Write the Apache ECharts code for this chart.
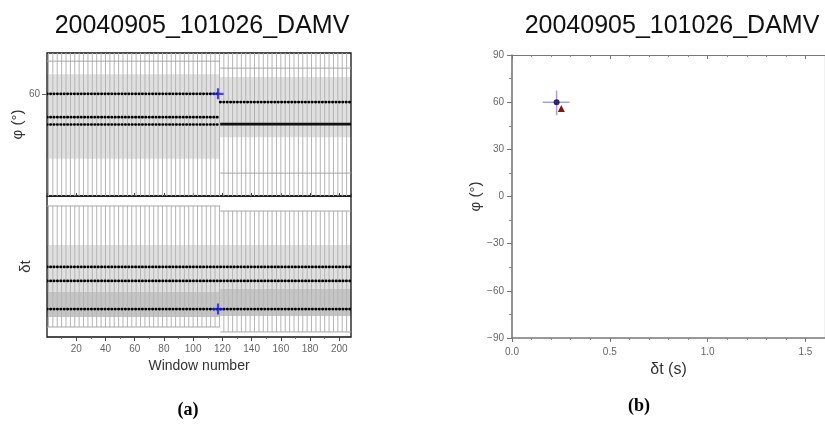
<!DOCTYPE html>
<html>
<head>
<meta charset="utf-8">
<script src="https://cdn.jsdelivr.net/npm/echarts@6/dist/echarts.min.js"></script>
<style>
  html, body { margin: 0; padding: 0; background: #fff; }
  #chart { width: 825px; height: 427px; }
</style>
</head>
<body>
<div id="chart"></div>
<script>
// window numbers that carry an error bar
const windows = [1,4,7,10,13,16,19,22,25,28,31,34,37,40,43,46,49,52,55,58,61,64,67,70,73,76,79,82,85,88,
  91,94,97,100,103,106,109,112,115,118,121,124,127,130,133,136,139,142,145,148,151,154,157,160,163,166,
  169,172,175,178,181,184,187,190,193,196,199,202,205,208];

// phi panel, [fromWindow, toWindow, low, high] / [from, to, value]
const phiBarSegs = [[0, 118.5, 30, 75], [118.5, 208, 30, 75]];
const phiBands = [[0, 118.5, 44.1, 64.8], [118.5, 208, 49.4, 64.1]];
const phiCaps = [[0, 118.5, 68.0], [118.5, 208, 66.3], [118.5, 208, 40.6]];
const phiMeans = [[0, 118.5, 60.0], [0, 118.5, 54.3], [0, 118.5, 52.5], [118.5, 208, 58.0]];
const phiStack = [[118.5, 208, 52.6]];

// dt panel
const dtBarSegs = [[0, 118.5, 0.085, 1.115], [118.5, 208, 0.043, 1.072]];
const dtBands = [[0, 118.5, 0.170, 0.783], [0, 118.5, 0.170, 0.383], [118.5, 208, 0.179, 0.783], [118.5, 208, 0.179, 0.409]];
const dtCaps = [[0, 118.5, 0.085], [0, 118.5, 1.115], [118.5, 208, 0.043], [118.5, 208, 1.072]];
const dtMeans = [[0, 208, 0.596], [0, 208, 0.477], [0, 208, 0.238]];

// chosen window
const bestWindow = 117;
const bestPhi = 60;
const bestDt = 0.238;

// right panel (dt, phi)
const resultPoint = [0.228, 60];
const altPoint = [0.252, 55.9];
const errDt = [0.157, 0.294];
const errPhi = [51.6, 67.5];

const xTicks = [20, 40, 60, 80, 100, 120, 140, 160, 180, 200];
const title = '20040905_101026_DAMV';

function barsFor(segs) {
  let out = [];
  windows.forEach(w => {
    segs.forEach(s => {
      if (w >= s[0] && w < s[1]) out.push([w, s[2], s[3]]);
    });
  });
  return out;
}

function vbarItem(params, api) {
  let a = api.coord([api.value(0), api.value(1)]);
  let b = api.coord([api.value(0), api.value(2)]);
  return { type: 'line', shape: { x1: a[0], y1: a[1], x2: b[0], y2: b[1] },
    style: { stroke: '#b4b4b4', lineWidth: 1 } };
}
function bandItem(params, api) {
  let a = api.coord([api.value(0), api.value(3)]);
  let b = api.coord([api.value(1), api.value(2)]);
  return { type: 'rect', shape: { x: a[0], y: a[1], width: b[0] - a[0], height: b[1] - a[1] },
    style: { fill: 'rgba(0,0,0,0.12)' } };
}
function hline(styleObj) {
  return function (params, api) {
    let a = api.coord([api.value(0), api.value(2)]);
    let b = api.coord([api.value(1), api.value(2)]);
    return { type: 'line', shape: { x1: a[0], y1: a[1], x2: b[0], y2: b[1] }, style: styleObj };
  };
}
const capStyle = { stroke: '#a8a8a8', lineWidth: 1 };
const dotStyle = { stroke: '#000', lineWidth: 2.7, lineDash: [0.4, 3], lineCap: 'round' };
const stackStyle = { stroke: '#111', lineWidth: 2.6 };

const plusPath = 'path://M4,0H6V10H4Z M0,4H10V6H0Z';
const lblStyle = { fontSize: 10, color: '#666', fontFamily: 'Liberation Sans' };

let myChart = echarts.init(document.getElementById('chart'));
let option = {
  animation: false,
  textStyle: { fontFamily: 'Liberation Sans' },
  title: [
    { text: title, left: 197, top: 9, textAlign: 'center',
      textStyle: { fontSize: 25, fontWeight: 'normal', color: '#111' } },
    { text: title, left: 667, top: 9, textAlign: 'center',
      textStyle: { fontSize: 25, fontWeight: 'normal', color: '#111' } },
    { text: '(a)', left: 183, top: 396, textAlign: 'center',
      textStyle: { fontSize: 18, fontWeight: 'bold', color: '#000', fontFamily: 'Liberation Serif' } },
    { text: '(b)', left: 634, top: 392, textAlign: 'center',
      textStyle: { fontSize: 18, fontWeight: 'bold', color: '#000', fontFamily: 'Liberation Serif' } }
  ],
  grid: [
    { left: 47, top: 53, width: 304, height: 143, show: true, borderColor: '#111', borderWidth: 1.3 },
    { left: 47, top: 196, width: 304, height: 141, show: true, borderColor: '#111', borderWidth: 1.3 },
    { left: 512, top: 55, width: 315, height: 283 }
  ],
  xAxis: [
    { type: 'value', gridIndex: 0, min: 0, max: 208, interval: 20,
      axisLine: { show: false }, axisLabel: { show: false },
      axisTick: { inside: true, length: 3, lineStyle: { color: '#444' } }, splitLine: { show: false } },
    { type: 'value', gridIndex: 1, min: 0, max: 208, interval: 20,
      axisLine: { show: false },
      axisLabel: Object.assign({ margin: 7, customValues: xTicks }, lblStyle),
      axisTick: { length: 4, customValues: xTicks, lineStyle: { color: '#444' } },
      minorTick: { show: true, splitNumber: 2, length: 2, lineStyle: { color: '#666' } },
      splitLine: { show: false },
      name: 'Window number', nameLocation: 'middle', nameGap: 22,
      nameTextStyle: { fontSize: 14, color: '#333' } },
    { type: 'value', gridIndex: 2, min: 0, max: 1.6, interval: 0.5,
      axisLine: { onZero: false, lineStyle: { color: '#777', width: 1.6 } },
      axisLabel: Object.assign({ margin: 9, formatter: v => v.toFixed(1), showMaxLabel: false }, lblStyle),
      axisTick: { length: 4, lineStyle: { color: '#777' } },
      minorTick: { show: true, splitNumber: 5, length: 2, lineStyle: { color: '#888' } },
      splitLine: { show: false },
      name: 'δt (s)', nameLocation: 'middle', nameGap: 17,
      nameTextStyle: { fontSize: 16, color: '#333' } },
    { type: 'value', gridIndex: 2, position: 'top', min: 0, max: 1.6, interval: 0.5,
      axisLine: { onZero: false, lineStyle: { color: '#777', width: 1.2 } }, axisLabel: { show: false },
      axisTick: { inside: true, length: 4, lineStyle: { color: '#777' } },
      minorTick: { show: true, splitNumber: 5, length: 2, lineStyle: { color: '#888' } },
      splitLine: { show: false } }
  ],
  yAxis: [
    { type: 'value', gridIndex: 0, min: 35, max: 70,
      axisLine: { show: false },
      axisLabel: Object.assign({ margin: 7, customValues: [60] }, lblStyle),
      axisTick: { length: 5, customValues: [60], lineStyle: { color: '#666' } },
      splitLine: { show: false },
      name: 'φ (°)', nameLocation: 'middle', nameGap: 14, nameRotate: 90,
      nameTextStyle: { fontSize: 15, color: '#333' } },
    { type: 'value', gridIndex: 1, min: 0, max: 1.2,
      axisLine: { show: false }, axisLabel: { show: false }, axisTick: { show: false },
      splitLine: { show: false },
      name: 'δt', nameLocation: 'middle', nameGap: 14, nameRotate: 90,
      nameTextStyle: { fontSize: 15, color: '#333' } },
    { type: 'value', gridIndex: 2, min: -90, max: 90, interval: 30,
      axisLine: { show: true, onZero: false, lineStyle: { color: '#777', width: 1.6 } },
      axisLabel: Object.assign({ margin: 8, formatter: v => String(v).replace('-', '\u2212') }, lblStyle),
      axisTick: { length: 5, lineStyle: { color: '#777' } },
      minorTick: { show: true, splitNumber: 2, length: 3, lineStyle: { color: '#888' } },
      splitLine: { show: false },
      name: 'φ (°)', nameLocation: 'middle', nameGap: 29, nameRotate: 90,
      nameTextStyle: { fontSize: 15, color: '#333' } },
    { type: 'value', gridIndex: 2, position: 'right', min: -90, max: 90,
      axisLine: { show: true, onZero: false, lineStyle: { color: '#777', width: 1.2 } },
      axisLabel: { show: false }, axisTick: { show: false }, splitLine: { show: false } }
  ],
  series: [
    // phi panel
    { type: 'custom', xAxisIndex: 0, yAxisIndex: 0, clip: true, renderItem: bandItem,
      encode: { x: [0, 1], y: [2, 3] }, data: phiBands },
    { type: 'custom', xAxisIndex: 0, yAxisIndex: 0, clip: true, renderItem: vbarItem,
      encode: { x: 0, y: [1, 2] }, data: barsFor(phiBarSegs) },
    { type: 'custom', xAxisIndex: 0, yAxisIndex: 0, clip: true, renderItem: hline(capStyle),
      encode: { x: [0, 1], y: 2 }, data: phiCaps },
    { type: 'custom', xAxisIndex: 0, yAxisIndex: 0, clip: true, renderItem: hline(dotStyle),
      encode: { x: [0, 1], y: 2 }, data: phiMeans },
    { type: 'custom', xAxisIndex: 0, yAxisIndex: 0, clip: true, renderItem: hline(stackStyle),
      encode: { x: [0, 1], y: 2 }, data: phiStack },
    { type: 'scatter', xAxisIndex: 0, yAxisIndex: 0, symbol: plusPath, symbolSize: 11,
      itemStyle: { color: '#1d1de8' }, data: [[bestWindow, bestPhi]] },
    // dt panel
    { type: 'custom', xAxisIndex: 1, yAxisIndex: 1, clip: true, renderItem: bandItem,
      encode: { x: [0, 1], y: [2, 3] }, data: dtBands },
    { type: 'custom', xAxisIndex: 1, yAxisIndex: 1, clip: true, renderItem: vbarItem,
      encode: { x: 0, y: [1, 2] }, data: barsFor(dtBarSegs) },
    { type: 'custom', xAxisIndex: 1, yAxisIndex: 1, clip: true, renderItem: hline(capStyle),
      encode: { x: [0, 1], y: 2 }, data: dtCaps },
    { type: 'custom', xAxisIndex: 1, yAxisIndex: 1, clip: true, renderItem: hline(dotStyle),
      encode: { x: [0, 1], y: 2 }, data: dtMeans },
    { type: 'scatter', xAxisIndex: 1, yAxisIndex: 1, symbol: plusPath, symbolSize: 11,
      itemStyle: { color: '#1d1de8' }, data: [[bestWindow, bestDt]] },
    // dt-phi panel
    { type: 'line', xAxisIndex: 2, yAxisIndex: 2, symbol: 'none', z: 1,
      lineStyle: { color: '#a4a4dc', width: 1.5 },
      data: [[errDt[0], resultPoint[1]], [errDt[1], resultPoint[1]]] },
    { type: 'line', xAxisIndex: 2, yAxisIndex: 2, symbol: 'none', z: 1,
      lineStyle: { color: '#b39ccf', width: 1.5 },
      data: [[resultPoint[0], errPhi[0]], [resultPoint[0], errPhi[1]]] },
    { type: 'scatter', xAxisIndex: 2, yAxisIndex: 2, symbol: 'triangle', symbolSize: 7, z: 5,
      itemStyle: { color: '#8a1212', opacity: 1 }, data: [altPoint] },
    { type: 'scatter', xAxisIndex: 2, yAxisIndex: 2, symbol: 'circle', symbolSize: 6, z: 5,
      itemStyle: { color: '#2e2766', opacity: 1, borderWidth: 0 }, data: [resultPoint] }
  ]
};
myChart.setOption(option);
window.onresize = function () { myChart.resize(); };
</script>
</body>
</html>
